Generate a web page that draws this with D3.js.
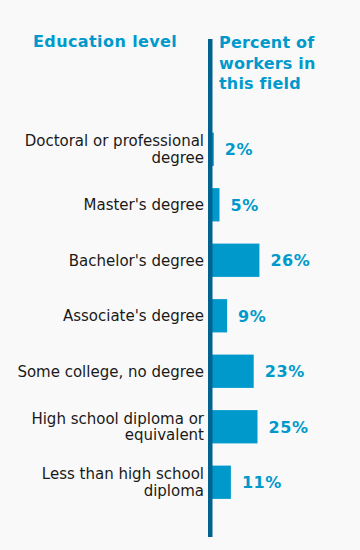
<!DOCTYPE html>
<html><head><meta charset="utf-8">
<script src="https://cdn.jsdelivr.net/npm/d3@7/dist/d3.min.js"></script>
<style>
html,body{margin:0;padding:0;background:#f9f9f9;}
svg{display:block;font-family:"DejaVu Sans",Verdana,sans-serif;}
</style></head><body>
<script>
const categories = [
  ["Doctoral or professional","degree"],
  ["Master's degree"],
  ["Bachelor's degree"],
  ["Associate's degree"],
  ["Some college, no degree"],
  ["High school diploma or","equivalent"],
  ["Less than high school","diploma"]
];
const values = [2, 5, 26, 9, 23, 25, 11];
const valueLabels = ["2%","5%","26%","9%","23%","25%","11%"];
const leftTitle = ["Education level"];
const rightTitle = ["Percent of","workers in","this field"];

const W = 360, H = 550;
const svg = d3.select("body").append("svg").attr("width", W).attr("height", H);
svg.append("rect").attr("width", W).attr("height", H).attr("fill", "#f9f9f9");

const x0 = 210;
const x = d3.scaleLinear().domain([0, 100]).range([x0, x0 + 190]);
const y = d3.scaleBand().domain(d3.range(categories.length)).range([121.5, 510]).paddingInner(0.4).paddingOuter(0.2);

const blue = "#0099cc", dark = "#00638f";

svg.selectAll("rect.bar").data(values).enter().append("rect")
  .attr("class","bar")
  .attr("x", x(0))
  .attr("y", (d,i) => y(i))
  .attr("width", d => x(d) - x(0))
  .attr("height", y.bandwidth())
  .attr("fill", blue);

svg.selectAll("text.val").data(values).enter().append("text")
  .attr("class","val")
  .attr("x", d => x(d) + 11)
  .attr("y", (d,i) => y(i) + y.bandwidth()/2)
  .attr("dy", "0.36em")
  .attr("fill", blue)
  .attr("font-weight", "bold")
  .attr("font-size", 16)
  .attr("letter-spacing", 0.6)
  .text((d,i) => valueLabels[i]);

const lh = 16.5;
const cat = svg.selectAll("text.cat").data(categories).enter().append("text")
  .attr("class","cat")
  .attr("text-anchor","end")
  .attr("fill","#1a1a1a")
  .attr("font-size", 15)
  .attr("x", 204)
  .attr("y", (d,i) => y(i) + y.bandwidth()/2 - (d.length-1)*lh/2);
cat.each(function(d){
  const t = d3.select(this);
  d.forEach((line, k) => {
    t.append("tspan").attr("x", 204).attr("dy", k === 0 ? "0.36em" : lh).text(line);
  });
});

svg.append("line").attr("x1", 210.25).attr("x2", 210.25).attr("y1", 39).attr("y2", 537)
  .attr("stroke", dark).attr("stroke-width", 4.5);

svg.append("text").attr("x", 33).attr("y", 47).attr("fill", blue).attr("font-weight","bold")
  .attr("font-size", 16).attr("letter-spacing", 0.4).text(leftTitle[0]);
const rt = svg.append("text").attr("fill", blue).attr("font-weight","bold").attr("font-size", 16).attr("letter-spacing", 0.2);
rightTitle.forEach((line,k) => rt.append("tspan").attr("x", 219).attr("y", 48 + k*20.5).text(line));
</script>
</body></html>
